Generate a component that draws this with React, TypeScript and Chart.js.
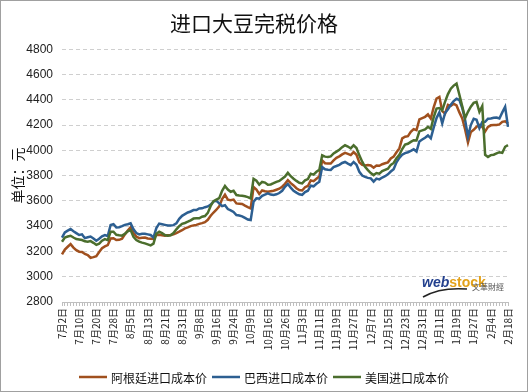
import React, { useEffect, useRef } from 'react';
import { Chart, registerables } from 'chart.js';

Chart.register(...registerables);

const chartTitle = '进口大豆完税价格';
const yAxisTitle = '单位：元';

const tickLabels = [
  '7月2日', '7月10日', '7月20日', '7月28日', '8月5日', '8月13日', '8月21日', '8月31日',
  '9月8日', '9月16日', '9月24日', '10月9日', '10月16日', '10月26日', '11月3日', '11月11日',
  '11月19日', '11月27日', '12月7日', '12月15日', '12月23日', '12月31日', '1月11日', '1月19日',
  '1月27日', '2月4日', '2月18日',
];
const pointsPerTick = 6;

const argentina = [
  3177, 3215, 3237, 3258, 3230, 3210, 3198, 3196, 3180, 3172,
  3150, 3155, 3162, 3195, 3225, 3240, 3250, 3303, 3305, 3290,
  3292, 3300, 3335, 3365, 3392, 3345, 3318, 3305, 3308, 3310,
  3302, 3300, 3298, 3330, 3332, 3328, 3325, 3328, 3330, 3336,
  3345, 3356, 3368, 3382, 3390, 3400, 3406, 3410, 3418, 3424,
  3432, 3450, 3482, 3508, 3530, 3556, 3615, 3650, 3610, 3606,
  3610, 3580, 3578, 3575, 3562, 3550, 3540, 3710, 3690, 3655,
  3682, 3676, 3672, 3676, 3680, 3688, 3696, 3712, 3735, 3764,
  3740, 3722, 3700, 3686, 3682, 3708, 3718, 3762, 3756, 3775,
  3792, 3920, 3898, 3896, 3895, 3920, 3940, 3952, 3968, 3980,
  3972, 3962, 3986, 3965, 3905, 3885, 3880, 3883, 3880, 3862,
  3880, 3878, 3890, 3898, 3905, 3936, 3950, 3985, 4015, 4095,
  4108, 4112, 4146, 4168, 4160, 4245, 4255, 4265, 4284, 4252,
  4340, 4410, 4423, 4310, 4290, 4360, 4352, 4368, 4355, 4300,
  4252, 4165, 4062, 4145, 4162, 4186, 4200, 4185, 4150, 4185,
  4198, 4200, 4200, 4205, 4225, 4230, 4213,
];

const brazil = [
  3309, 3350, 3365, 3377, 3360, 3345, 3330, 3335, 3305, 3312,
  3318, 3303, 3285, 3300, 3320, 3330, 3322, 3409, 3415, 3390,
  3392, 3400, 3410, 3415, 3422, 3375, 3345, 3335, 3340, 3340,
  3335, 3330, 3310, 3385, 3420, 3415, 3410, 3405, 3405, 3408,
  3422, 3458, 3482, 3495, 3508, 3516, 3527, 3527, 3540, 3541,
  3550, 3556, 3570, 3595, 3600, 3580, 3558, 3565, 3535, 3525,
  3512, 3488, 3484, 3478, 3465, 3452, 3448, 3593, 3620, 3618,
  3640, 3650, 3659, 3650, 3646, 3652, 3662, 3680, 3712, 3733,
  3705, 3680, 3665, 3652, 3648, 3670, 3680, 3720, 3715, 3735,
  3752, 3868, 3850, 3846, 3845, 3868, 3876, 3885, 3900, 3908,
  3895, 3883, 3908, 3886, 3830, 3800, 3790, 3782, 3778, 3752,
  3776, 3770, 3785, 3795, 3810, 3832, 3850, 3905, 3940, 3965,
  3978, 3985, 3996, 4008, 3990, 4070, 4085, 4100, 4118, 4095,
  4180, 4255, 4300, 4213, 4295, 4325, 4360, 4390, 4408, 4398,
  4335, 4240, 4110, 4200, 4250, 4242, 4175, 4225, 4226, 4250,
  4252, 4258, 4260, 4252, 4300, 4344, 4186,
];

const usa = [
  3277, 3310, 3318, 3324, 3310, 3298, 3295, 3290, 3280, 3277,
  3282, 3268, 3252, 3262, 3285, 3298, 3290, 3356, 3356, 3332,
  3328, 3325, 3340, 3360, 3369, 3315, 3290, 3277, 3270, 3264,
  3256, 3248, 3262, 3340, 3356, 3345, 3330, 3325, 3328, 3345,
  3375, 3400, 3418, 3425, 3435, 3446, 3460, 3462, 3462, 3475,
  3480, 3505, 3560, 3598, 3610, 3622, 3680, 3718, 3690, 3672,
  3680, 3646, 3642, 3640, 3636, 3630, 3620, 3775, 3760, 3728,
  3750, 3745, 3728, 3730, 3740, 3751, 3758, 3775, 3792, 3822,
  3795, 3775, 3758, 3743, 3738, 3762, 3772, 3815, 3808, 3830,
  3845, 3960, 3950, 3948, 3952, 3975, 3990, 4005, 4025, 4040,
  4030, 4015, 4040, 4018, 3960, 3910, 3870, 3843, 3820, 3804,
  3820, 3815, 3835, 3845, 3855, 3885, 3900, 3938, 3965, 4010,
  4045, 4052, 4067, 4080, 4078, 4150, 4158, 4165, 4186, 4170,
  4260, 4330, 4335, 4318, 4385, 4445, 4488, 4512, 4528, 4440,
  4348, 4255, 4305, 4345, 4375, 4383, 4305, 4350, 3965, 3948,
  3962, 3965, 3975, 3985, 3980, 4028, 4041,
];

const seriesNames = ['阿根廷进口成本价', '巴西进口成本价', '美国进口成本价'];
const seriesColors = ['#A0501E', '#2D5F91', '#4B6E2D'];

const yMin = 2800;
const yMax = 4800;
const yStep = 200;

const CJK = '"Noto Sans CJK SC", "Noto Sans", sans-serif';
const LATIN = '"Liberation Sans", Arial, sans-serif';

const categories = argentina.map((_, i) =>
  i % pointsPerTick === 0 ? tickLabels[i / pointsPerTick] ?? '' : ''
);

const legendPlugin = {
  id: 'customLegend',
  afterDraw(chart: any) {
    const { ctx } = chart;
    ctx.save();
    ctx.font = `12px ${CJK}`;
    const lineLen = 28;
    const gapText = 4;
    const gapItem = 5;
    const ds = chart.data.datasets;
    const widths = ds.map((d: any) => ctx.measureText(d.label).width);
    const total =
      widths.reduce((a: number, w: number) => a + lineLen + gapText + w, 0) +
      gapItem * (ds.length - 1);
    let x = Math.round((chart.width - total) / 2);
    const y = 377;
    ctx.textBaseline = 'middle';
    ctx.textAlign = 'left';
    ds.forEach((d: any, i: number) => {
      ctx.strokeStyle = d.borderColor;
      ctx.lineWidth = 2.5;
      ctx.beginPath();
      ctx.moveTo(x, y);
      ctx.lineTo(x + lineLen, y);
      ctx.stroke();
      x += lineLen + gapText;
      ctx.fillStyle = '#111';
      ctx.fillText(d.label, x, y + 1);
      x += widths[i] + gapItem;
    });
    ctx.restore();
  },
};

const framePlugin = {
  id: 'frame',
  afterDraw(chart: any) {
    const { ctx } = chart;
    ctx.save();
    ctx.strokeStyle = '#A0A0A0';
    ctx.lineWidth = 1;
    ctx.strokeRect(0.5, 0.5, chart.width - 1, chart.height - 1);
    ctx.restore();
  },
};

const watermarkPlugin = {
  id: 'watermark',
  beforeDatasetsDraw(chart: any) {
    const { ctx } = chart;
    ctx.save();
    ctx.textBaseline = 'alphabetic';
    ctx.textAlign = 'left';
    ctx.font = `italic bold 14px ${LATIN}`;
    ctx.fillStyle = '#23408E';
    ctx.fillText('web', 422, 287);
    const w = ctx.measureText('web').width;
    ctx.font = `bold 14px ${LATIN}`;
    ctx.fillStyle = '#E3A21A';
    ctx.fillText('stock', 422 + w, 287);
    ctx.strokeStyle = '#222';
    ctx.lineWidth = 1.5;
    ctx.beginPath();
    ctx.moveTo(423, 297);
    ctx.quadraticCurveTo(440, 287, 467, 289);
    ctx.stroke();
    ctx.font = `8px ${CJK}`;
    ctx.fillStyle = '#555';
    ctx.fillText('文華財經', 472, 290);
    ctx.restore();
  },
};

export default function App() {
  const canvasRef = useRef<HTMLCanvasElement | null>(null);

  useEffect(() => {
    document.body.style.margin = '0';
    const canvas = canvasRef.current;
    if (!canvas) return;
    const series = [argentina, brazil, usa];
    const chart = new Chart(canvas, {
      type: 'line',
      data: {
        labels: categories,
        datasets: series.map((data, i) => ({
          label: seriesNames[i],
          data,
          borderColor: seriesColors[i],
          backgroundColor: seriesColors[i],
          borderWidth: 2.5,
          pointRadius: 0,
          tension: 0,
          fill: false,
          order: series.length - i,
        })),
      },
      options: {
        responsive: false,
        animation: false,
        devicePixelRatio: 1,
        layout: { padding: { left: 0, right: 20, top: 0, bottom: 40 } },
        plugins: {
          legend: { display: false },
          tooltip: { enabled: false },
          title: {
            display: true,
            text: chartTitle,
            color: '#111',
            font: { family: CJK, size: 21, weight: 'normal' },
            padding: { top: 10, bottom: 14 },
          },
        },
        scales: {
          x: {
            type: 'category',
            offset: false,
            grid: {
              display: true,
              drawOnChartArea: false,
              drawTicks: true,
              tickLength: 4,
              color: '#BFBFBF',
            },
            border: { display: true, color: '#BFBFBF', width: 1 },
            ticks: {
              autoSkip: false,
              maxRotation: 90,
              minRotation: 90,
              padding: 2,
              color: '#222',
              font: { family: CJK, size: 10 },
            },
            afterFit: (scale: any) => {
              scale.height = 50;
            },
          },
          y: {
            min: yMin,
            max: yMax,
            grid: {
              color: '#CFCFCF',
              drawTicks: false,
              lineWidth: 1,
            },
            border: { display: false, dash: [4, 3] },
            ticks: {
              stepSize: yStep,
              padding: 9,
              color: '#222',
              font: { family: LATIN, size: 12 },
              callback: (v: any) => String(v),
            },
            title: {
              display: true,
              text: yAxisTitle,
              color: '#111',
              font: { family: CJK, size: 14 },
              padding: { top: 9, bottom: 0 },
            },
            afterFit: (scale: any) => {
              scale.width = 62;
            },
          },
        },
      },
      plugins: [watermarkPlugin, legendPlugin, framePlugin],
    } as any);
    return () => chart.destroy();
  }, []);

  return (
    <div style={{ position: 'absolute', left: 0, top: 0, width: 528, height: 392, background: '#fff' }}>
      <canvas ref={canvasRef} width={528} height={392} style={{ display: 'block' }} />
    </div>
  );
}
